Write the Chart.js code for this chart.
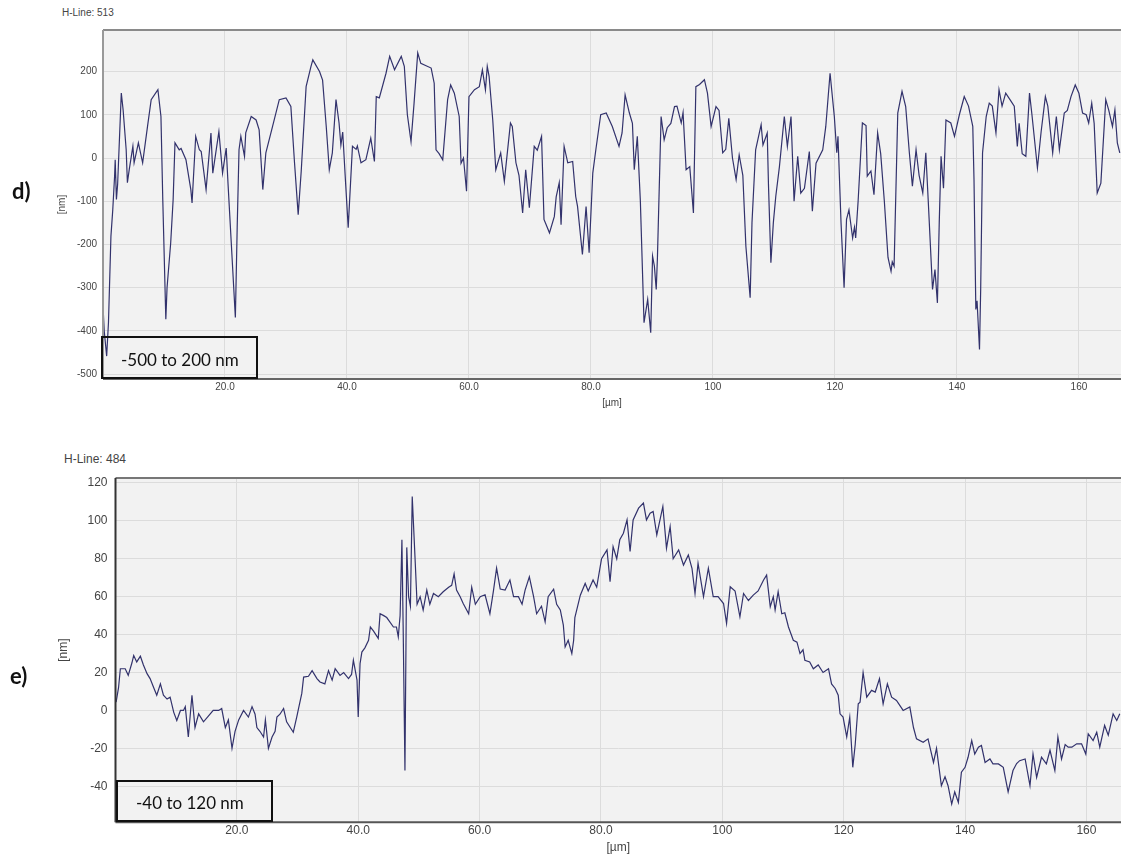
<!DOCTYPE html>
<html>
<head>
<meta charset="utf-8">
<script src="https://cdn.jsdelivr.net/npm/chart.js@4.4.1/dist/chart.umd.min.js"></script>
<style>
  body { margin:0; background:#fff; width:1121px; height:857px; position:relative; overflow:hidden; font-family:'Liberation Sans', Arial, sans-serif; }
  .wrap { position:absolute; left:0; }
  .hline { position:absolute; color:#444; white-space:nowrap; }
  .tag { position:absolute; font-family:Lato, 'Open Sans', sans-serif; font-weight:bold; font-size:22px; color:#111; }
  .range { position:absolute; box-sizing:border-box; border:2px solid #111; font-family:Lato, 'Open Sans', sans-serif; font-size:17px; color:#111; white-space:nowrap; }
</style>
</head>
<body>
<div class="hline" style="left:62px;top:7px;font-size:10px;">H-Line: 513</div>
<div class="wrap" style="top:0;"><canvas id="chart-d" width="1121" height="410"></canvas></div>
<div class="tag" style="left:12px;top:177px;">d)</div>
<div class="range" style="left:101px;top:336px;width:157px;height:43px;padding:11px 0 0 18px;">-500 to 200 nm</div>

<div class="hline" style="left:64px;top:452px;font-size:12px;">H-Line: 484</div>
<div class="wrap" style="top:430px;"><canvas id="chart-e" width="1121" height="427"></canvas></div>
<div class="tag" style="left:10px;top:662px;">e)</div>
<div class="range" style="left:116px;top:780px;width:157px;height:42px;padding:10px 0 0 18px;">-40 to 120 nm</div>

<script>
// profile d) H-Line 513, position [µm] / height [nm]
const xD = [0.0,0.2,0.6,0.9,1.3,1.6,1.9,2.0,2.2,2.4,
  3.0,3.3,3.8,4.0,4.3,4.9,5.1,5.8,6.5,7.3,
  7.9,9.0,9.5,9.8,10.3,10.5,11.1,11.5,11.8,12.5,
  12.8,13.6,14.4,14.6,15.2,15.8,16.1,16.9,17.7,18.0,
  19.0,19.6,20.2,20.5,21.7,22.0,22.3,22.6,23.2,23.4,
  24.3,25.1,25.6,26.2,26.7,27.8,28.9,30.0,30.8,31.4,
  32.0,32.5,33.3,34.1,34.4,35.5,36.0,36.6,37.1,37.6,
  38.2,38.7,39.0,39.3,39.7,40.2,40.9,41.5,41.7,42.3,
  43.1,43.9,44.5,44.8,45.3,46.4,47.0,47.8,48.9,49.4,
  49.9,50.5,51.0,51.6,52.1,53.8,54.3,54.6,55.1,55.7,
  56.5,57.0,57.6,58.4,58.7,59.1,59.6,60.0,60.9,61.7,
  62.2,62.7,63.0,63.3,63.9,64.4,65.2,65.8,66.8,67.1,
  67.7,68.2,68.8,69.3,69.9,70.7,71.2,71.9,72.3,73.2,
  74.0,74.3,74.8,75.1,75.6,76.2,77.0,77.5,77.8,78.6,
  79.2,79.7,80.3,80.8,81.6,82.5,83.5,84.6,85.1,85.6,
  86.3,86.8,87.1,87.6,88.1,88.7,89.3,89.8,90.1,90.4,
  90.7,90.9,91.5,92.0,92.5,93.1,93.7,94.1,94.8,95.1,
  95.6,96.2,96.8,97.2,97.8,98.6,99.1,99.7,100.5,101.0,
  101.6,102.1,102.6,103.2,103.8,104.3,104.9,105.4,106.1,106.4,
  107.0,107.9,108.2,108.9,109.1,109.5,109.9,110.3,110.9,111.7,
  112.2,112.8,113.3,113.9,114.4,115.0,115.8,116.3,116.9,118.0,
  118.5,119.2,119.9,120.3,120.5,121.0,121.5,121.9,122.3,122.9,
  123.2,123.4,123.8,124.5,125.1,125.3,125.9,126.4,127.0,127.5,
  128.1,128.7,129.2,129.4,129.7,130.3,131.0,131.6,132.2,132.7,
  133.3,133.8,134.4,134.9,135.3,136.0,136.4,136.8,137.1,137.4,
  137.8,138.2,139.0,139.6,140.4,141.2,141.9,142.6,142.8,143.1,
  143.3,143.7,143.9,144.2,144.8,145.3,145.8,146.4,146.9,147.4,
  148.0,148.7,149.4,149.9,150.2,150.7,151.3,151.9,152.3,153.2,
  153.8,154.5,154.9,155.7,156.3,156.8,157.6,158.1,158.7,159.4,
  160.0,160.6,161.2,161.6,162.1,162.5,163.0,163.6,164.4,164.9,
  165.5,165.9,166.3,166.7]
const yD = [-343,-400,-458,-380,-181,-120,-42,-4,-96,-60,
  150,111,19,-57,-27,27,-11,35,-11,73,
  135,158,96,-96,-373,-300,-196,-96,35,19,
  22,-4,-73,-104,50,19,15,-73,58,-35,
  61,-35,23,-60,-369,-161,19,50,4,58,
  96,88,65,-73,12,73,135,139,119,-11,
  -131,-30,165,212,227,200,180,73,-27,12,
  135,81,30,60,-40,-161,27,20,28,-11,
  -4,46,-8,142,139,196,235,204,235,212,
  100,38,127,243,219,208,173,19,10,-4,
  135,169,150,96,-12,0,-77,142,158,165,
  204,158,212,189,88,-27,12,-54,81,73,
  -11,-40,-127,-27,-115,27,18,50,-142,-173,
  -135,-90,-57,-154,27,-11,-8,-89,-112,-223,
  -112,-219,-35,19,100,104,73,27,58,146,
  104,80,-27,50,-100,-381,-327,-404,-227,-250,
  -304,-230,96,42,70,80,119,120,81,105,
  -27,-20,-127,165,170,181,150,73,119,110,
  12,20,92,0,-50,7,-40,-204,-323,-150,
  19,77,30,58,-60,-242,-150,-89,-20,96,
  27,96,-100,4,-81,-70,15,-123,-12,19,
  73,196,96,12,50,-150,-300,-142,-120,-185,
  -160,-185,-100,81,75,-42,-30,-85,58,10,
  -100,-230,-262,-240,-250,104,154,119,12,-65,
  19,-40,-81,12,-100,-304,-258,-335,-150,4,
  -70,88,81,50,100,142,120,73,-50,-350,
  -330,-443,-300,12,96,127,120,58,158,120,
  150,135,120,27,80,10,4,150,100,-23,
  60,142,120,12,96,19,104,110,142,169,
  150,104,100,81,127,80,-81,-58,135,110,
  73,111,35,12]

// profile e) H-Line 484
const xE = [0.1,0.5,0.8,1.6,2.1,2.7,3.0,3.5,4.1,4.6,
  5.2,5.7,6.3,6.8,7.4,7.9,8.5,9.0,9.6,10.1,
  10.7,11.2,11.5,12.0,12.6,13.1,13.7,14.5,15.3,16.1,
  17.0,17.5,18.1,18.6,19.2,19.7,20.3,21.1,21.9,22.5,
  23.0,23.3,23.8,24.4,24.7,25.2,25.8,26.3,26.6,27.1,
  27.7,28.2,28.8,29.3,29.9,30.1,30.7,31.0,31.8,32.4,
  33.2,33.7,34.5,35.1,35.7,36.2,37.0,37.6,38.4,38.9,
  39.2,39.8,40.0,40.3,40.6,41.1,41.7,42.0,42.5,43.3,
  43.6,44.2,44.7,45.0,45.8,46.3,46.6,46.9,47.2,47.4,
  47.7,48.0,48.3,48.6,48.9,49.4,49.7,50.2,50.7,51.3,
  51.8,52.4,53.2,54.0,54.9,55.4,55.8,56.2,56.8,57.3,
  58.2,58.7,59.3,60.1,60.9,61.7,62.3,62.8,63.4,64.2,
  65.0,65.6,66.4,67.0,67.5,68.2,68.9,69.4,70.2,70.8,
  71.3,72.2,72.7,73.3,73.8,74.1,74.6,75.2,75.5,75.7,
  76.6,77.4,77.9,78.7,79.3,80.1,81.0,81.5,82.0,82.6,
  83.1,83.7,84.3,84.8,85.3,86.2,87.0,87.5,88.1,88.6,
  89.2,90.2,90.8,91.4,91.9,92.8,93.6,94.4,95.0,95.5,
  96.0,96.9,97.7,98.5,99.3,100.2,100.7,101.3,102.1,102.9,
  103.5,104.3,105.1,105.9,106.8,107.3,107.9,108.4,108.7,109.2,
  109.8,110.3,110.9,111.7,112.3,112.8,113.3,113.6,114.4,115.0,
  115.8,116.6,117.5,118.0,118.6,119.1,119.4,119.9,120.5,121.0,
  121.5,121.9,122.4,122.7,123.2,123.8,124.6,125.2,125.9,126.5,
  127.2,127.9,128.7,129.8,130.9,131.5,132.0,133.1,133.9,134.8,
  135.3,136.1,136.7,137.2,137.8,138.3,138.9,139.4,140.0,140.5,
  141.1,141.6,142.2,142.7,143.3,144.1,144.6,145.5,146.3,147.1,
  147.9,148.5,149.0,149.9,150.7,151.2,151.8,152.6,153.4,154.0,
  154.8,155.3,155.9,156.5,157.0,157.6,158.4,159.2,159.9,160.3,
  161.1,161.7,162.2,163.0,163.6,164.4,165.0,165.5]
const yE = [4.4,12,22,22,18.5,25,29,25.6,28.6,24,
  19.4,16.8,12,8,14,8,6,7,-1,-5.3,
  0,0,2,-14,8,-9,-1.8,-6,-3,0,
  0,1,-9,-5,-20,-11,-5,0,-3.5,2,
  -2,-9,-11,-14,-5,-20,-14,-11,-3.5,-2,
  1,-6,-9,-11.5,-3,0,9,17.6,18,21,
  16.8,15,14,21,16,22,18.5,20,16.8,19,
  26.5,16,-3.5,24.7,30.8,33,37,44,42,38,
  51,50,49,47.6,44,44,38.8,50,90,45,
  -31.7,86,60,55,112.8,77.6,56,60,53,63.5,
  56,61.7,60,62.6,65,66,72,63.5,60,56.4,
  51,65,56,60,61,51,63.5,75,64,63.5,
  68.8,60,60,56,63.5,70.5,60,51,55,46.7,
  60,64,56,53,45,33.5,37,30,37,49,
  60.8,67,63,68.8,65,80,84.7,67.9,86.4,80,
  90,93.5,100.5,83.8,100.5,106.7,109.4,100.5,104,105,
  92.6,107.6,85.6,97,80,84.7,76.7,82,75,61.7,
  77.6,60,75,60,60,56.4,45.9,65.2,63,49.4,
  61.7,58,60.8,63,68.8,71.4,54.7,60,53,62.6,
  51,51.5,44,37,36,30,32,26.5,25.6,22,
  24,20,22,14,11.6,8,-1.8,-3.5,-14,-3.5,
  -30,-18,3.5,4.4,20,7,10.6,9.7,16.8,3.5,
  14,7,5.3,0,1.8,-9,-15,-16.8,-15,-27.4,
  -20,-39.7,-35,-39.7,-49.4,-43,-48.5,-32.6,-30,-24.7,
  -15.9,-23,-19.4,-18.5,-27.4,-25.6,-28.2,-28.2,-30,-43,
  -31.7,-28,-26.5,-25.6,-39.7,-23,-35.3,-24.7,-28.2,-21,
  -31.7,-14,-25.6,-18,-19.4,-19.4,-17.6,-17.6,-23,-12.3,
  -15.9,-11.5,-19.4,-7.9,-13,-1.8,-5.3,-1.8]

const xTicks = [20, 40, 60, 80, 100, 120, 140, 160]
const yTicksD = [-500, -400, -300, -200, -100, 0, 100, 200]
const yTicksE = [-40, -20, 0, 20, 40, 60, 80, 100, 120]

Chart.defaults.font.family = "'Liberation Sans', Arial, sans-serif"
Chart.defaults.color = '#444'

// grey plot background + frame lines like the AFM software
const plotFrame = {
  id: 'plotFrame',
  beforeDraw(chart, args, o) {
    const { ctx, chartArea: a } = chart
    ctx.save()
    ctx.fillStyle = '#f2f2f2'
    ctx.fillRect(a.left, a.top, a.right - a.left, a.bottom - a.top)
    ctx.restore()
  },
  afterDraw(chart, args, o) {
    const { ctx, chartArea: a } = chart
    ctx.save()
    ctx.lineWidth = 2
    ctx.strokeStyle = o.top
    ctx.beginPath(); ctx.moveTo(a.left, a.top); ctx.lineTo(a.right, a.top); ctx.stroke()
    ctx.strokeStyle = o.left
    ctx.beginPath(); ctx.moveTo(a.left, a.top); ctx.lineTo(a.left, a.bottom); ctx.stroke()
    ctx.strokeStyle = o.bottom
    ctx.beginPath(); ctx.moveTo(a.left, a.bottom); ctx.lineTo(a.right, a.bottom); ctx.stroke()
    ctx.restore()
  }
}

function profile(id, xs, ys, c) {
  const pts = xs.map((x, i) => ({ x, y: ys[i] }))
  return new Chart(document.getElementById(id), {
    type: 'line',
    data: { datasets: [{ data: pts, borderColor: '#32326c', borderWidth: 1.2, pointRadius: 0, tension: 0 }] },
    options: {
      responsive: false,
      animation: false,
      devicePixelRatio: 1,
      layout: { padding: { left: 52, top: c.top, right: 0, bottom: 0 } },
      plugins: {
        legend: { display: false },
        tooltip: { enabled: false },
        plotFrame: c.frame
      },
      scales: {
        x: {
          type: 'linear', min: 0, max: c.xMax,
          afterBuildTicks: s => { s.ticks = xTicks.map(v => ({ value: v })) },
          afterFit: s => { s.height = c.xHeight },
          ticks: { autoSkip: false, maxRotation: 0, padding: c.xPad, color: '#444', font: { size: c.font },
            callback: v => v < 100 ? v.toFixed(1) : String(v) },
          grid: { color: '#dcdcdc', drawTicks: false },
          border: { display: false },
          title: { display: true, text: '[µm]', color: '#444', font: { size: c.font }, padding: { top: 0, bottom: c.titlePad } }
        },
        y: {
          type: 'linear', min: c.yMin, max: c.yMax,
          afterBuildTicks: s => { s.ticks = c.yTicks.map(v => ({ value: v })) },
          afterFit: s => { s.width = c.yWidth },
          ticks: { padding: c.yPad, color: '#444', font: { size: c.font } },
          grid: { color: '#dcdcdc', drawTicks: false },
          border: { display: false },
          title: { display: true, text: '[nm]', color: '#444', font: { size: c.font }, padding: { top: 4, bottom: 0 } }
        }
      }
    },
    plugins: [plotFrame]
  })
}

profile('chart-d', xD, yD, {
  top: 30, xMax: 166.9, yMin: -511, yMax: 296, yTicks: yTicksD,
  yWidth: 51, xHeight: 31, font: 10, xPad: 2, yPad: 6, titlePad: 1,
  frame: { top: '#8a8a8a', left: '#999999', bottom: '#666666' }
})
profile('chart-e', xE, yE, {
  top: 48, xMax: 165.7, yMin: -59, yMax: 122.6, yTicks: yTicksE,
  yWidth: 63.5, xHeight: 34.7, font: 12, xPad: 1, yPad: 8, titlePad: 2,
  frame: { top: '#777777', left: '#333333', bottom: '#555555' }
})
</script>
</body>
</html>
